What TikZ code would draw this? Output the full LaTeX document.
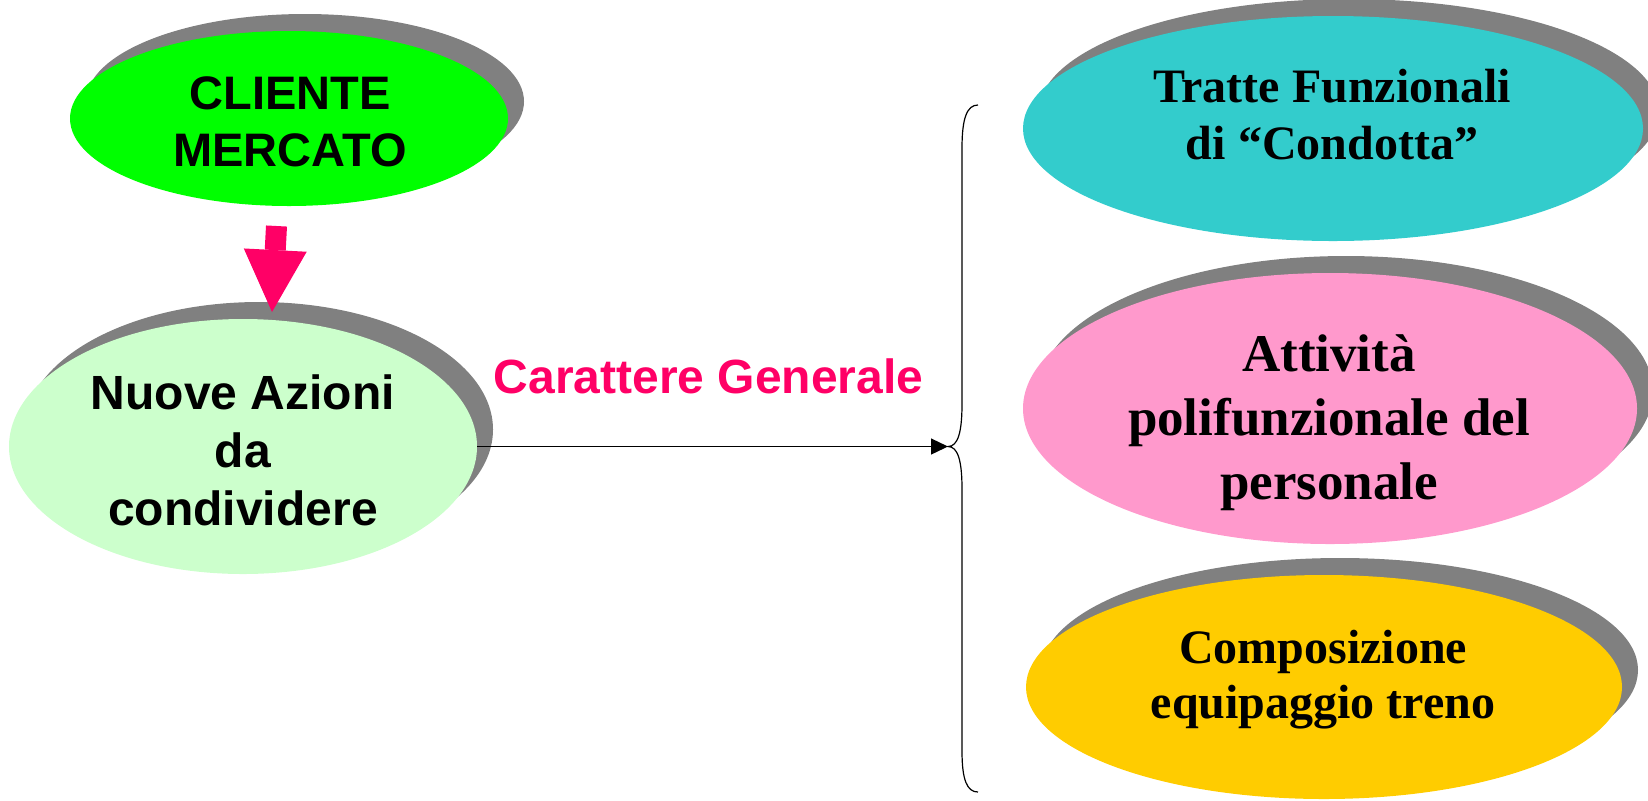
\documentclass[tikz,border=0pt]{standalone}
\usepackage{fontspec}
\setmainfont{Liberation Serif}
\newfontfamily\arialfont{Liberation Sans}
\usetikzlibrary{shapes,shadows,arrows.meta}
\definecolor{shadowgray}{HTML}{808080}
\definecolor{mercatogreen}{HTML}{00FF00}
\definecolor{azionigreen}{HTML}{CCFFCC}
\definecolor{trattecyan}{HTML}{33CCCC}
\definecolor{attivitapink}{HTML}{FF99CC}
\definecolor{composyellow}{HTML}{FFCC00}
\definecolor{accent}{HTML}{FF0066}

\begin{document}
\begin{tikzpicture}[x=0.5pt,y=-0.5pt]
        \tikzstyle{bubble}=[ellipse,inner sep=0pt,outer sep=0pt,drop shadow={shadow xshift=8pt,shadow yshift=8.5pt,fill=shadowgray,opacity=1}]
        \tikzstyle{sanstext}=[inner sep=0pt,anchor=north,align=center,font=\arialfont\bfseries\fontsize{23.5pt}{28.5pt}\selectfont]
        \tikzstyle{seriftext}=[inner sep=0pt,anchor=north,align=center,font=\bfseries\fontsize{24pt}{28.5pt}\selectfont]
        \useasboundingbox (0,0) rectangle (1648,800);
        \node[bubble,fill=mercatogreen,minimum width=219pt,minimum height=87.5pt] (cliente) at (289,118.5) {};
        \node[bubble,fill=azionigreen,minimum width=234pt,minimum height=127.5pt] (azioni) at (243,446.5) {};
        \node[bubble,fill=trattecyan,minimum width=310pt,minimum height=112.5pt] (tratte) at (1333,128.5) {};
        \node[bubble,fill=attivitapink,minimum width=307pt,minimum height=135.5pt] (attivita) at (1330,408.5) {};
        \node[bubble,fill=composyellow,minimum width=298pt,minimum height=112pt] (compos) at (1324,687) {};
        \node[sanstext] (clienteTxt) at (290,76) {CLIENTE\\MERCATO};
        \node[sanstext,font=\arialfont\bfseries\fontsize{24pt}{29pt}\selectfont] (azioniTxt) at (243,374) {Nuove Azioni\\da\\condividere};
        \node[seriftext] (tratteTxt) at (1332,69) {Tratte Funzionali\\di ``Condotta''};
        \node[seriftext,font=\bfseries\fontsize{26.5pt}{32pt}\selectfont] (attivitaTxt) at (1329,334) {Attività\\polifunzionale del\\personale};
        \node[seriftext,font=\bfseries\fontsize{24pt}{27.5pt}\selectfont] (composTxt) at (1323,630) {Composizione\\equipaggio treno};
        \node[inner sep=0pt,anchor=base,text=accent,font=\arialfont\bfseries\fontsize{24pt}{29pt}\selectfont] (carattere) at (708.5,393) {Carattere Generale};
        \draw[accent,line width=10.5pt,-{Triangle[width=31.5pt,length=31pt,line width=0pt]}] ([xshift=-6.25pt,yshift=-10pt]cliente.south) -- ([xshift=14.5pt,yshift=3.5pt]azioni.north);
        \coordinate (bracetip) at (948,446.5);
        \draw[line width=0.65pt,-{Triangle[length=8.5pt,width=8pt]}] (azioni.east) -- (bracetip);
        \draw[line width=0.6pt] (978,105) .. controls (967,105) and (962,118) .. (962,148) -- (962,404)
                .. controls (962,432) and (958,446.5) .. (bracetip)
                .. controls (958,446.5) and (962,461) .. (962,489) -- (962,751)
                .. controls (962,780) and (967,792) .. (978,792);
\end{tikzpicture}
\end{document}
